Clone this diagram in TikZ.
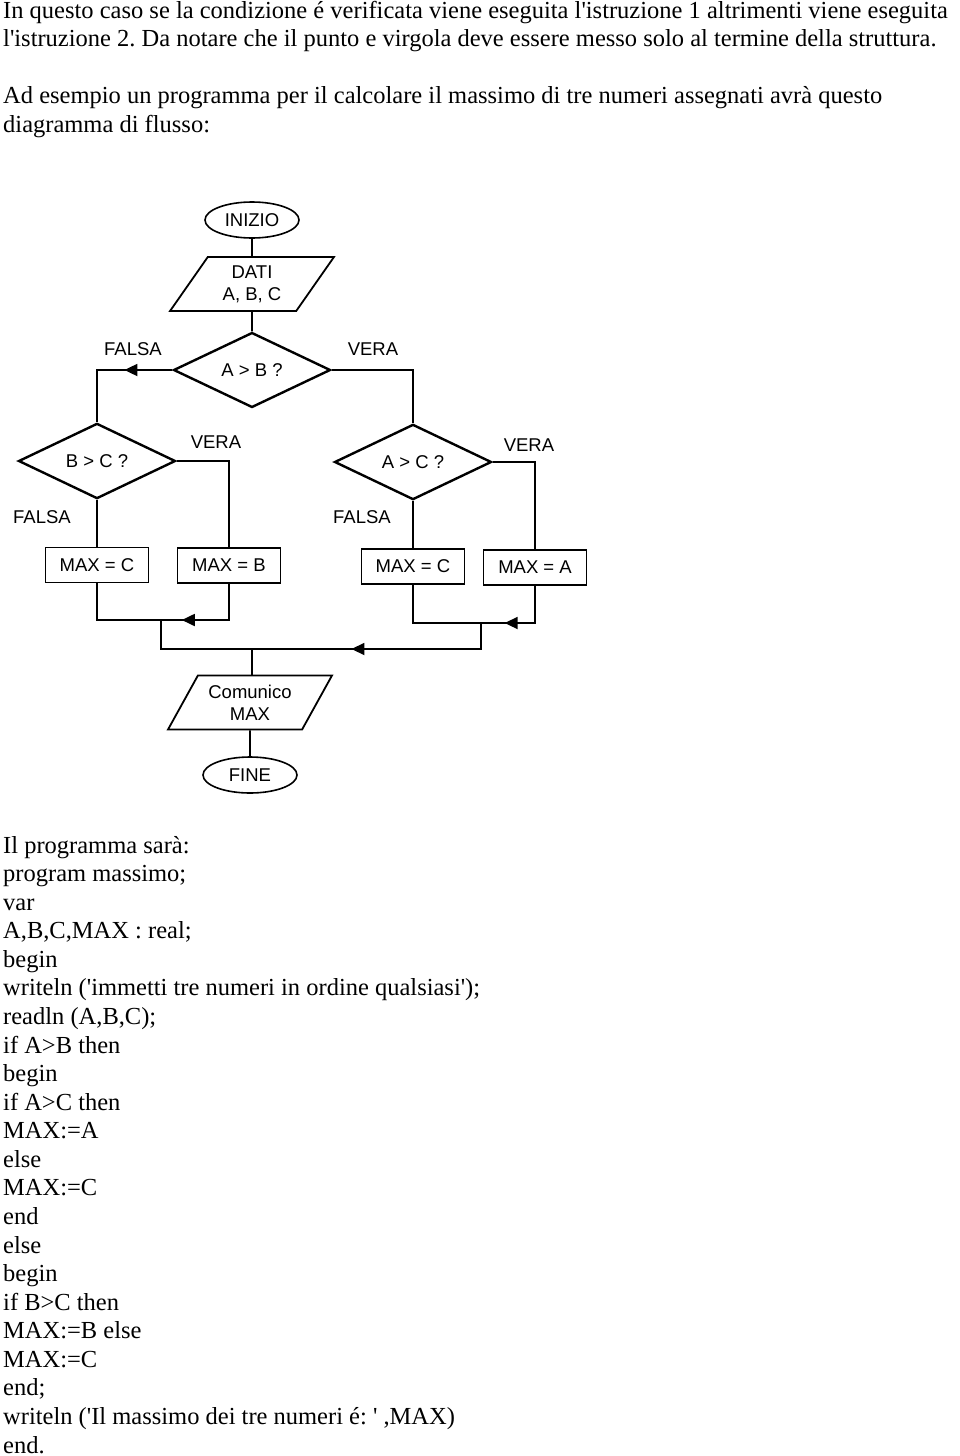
\documentclass[tikz,border=0pt]{standalone}
\usepackage{fontspec}
\setmainfont{Liberation Serif}[Ligatures=TeXOff]
\newfontfamily\chartfont{Liberation Sans}
\usepackage{tikz}
\usetikzlibrary{
	shapes.geometric,arrows.meta,decorations.markings
}
\frenchspacing
\tikzset{
	chart/.style={font=\chartfont\fontsize{18.5pt}{22pt}\selectfont},
	term/.style={chart,draw,line width=1.6pt,ellipse,minimum width=94pt,minimum height=36pt,inner sep=0pt},
	io/.style={chart,draw,line width=1.8pt,trapezium,trapezium left angle=56,trapezium right angle=124,
		trapezium stretches=true,minimum width=164pt,minimum height=54pt,inner sep=0pt,align=center},
	test/.style={chart,draw,line width=2.4pt,diamond,minimum width=157pt,minimum height=75pt,inner sep=0pt},
	block/.style={chart,draw,line width=1.9pt,rectangle,minimum width=103pt,minimum height=35pt,inner sep=0pt},
	lbl/.style={chart,inner sep=0pt},
	para/.style={anchor=base west,inner sep=0pt,font=\fontsize{24.5pt}{28pt}\selectfont},
	hv/.style={to path={-| (\tikztotarget)}},
	vh/.style={to path={|- (\tikztotarget)}},
	tipat/.style={postaction={decorate},decoration={markings,
		mark=at position #1 with {\arrow{Triangle[length=13pt,width=12pt]}}}}
}
\begin{document}
\begin{tikzpicture}[x=1pt,y=-1pt]
	\path[use as bounding box,fill=white] (0,0) rectangle (960,1456);
	% text above
	\node[para] (h1) at (3,18) {In questo caso se la condizione é verificata viene eseguita l'istruzione 1 altrimenti viene eseguita};
	\node[para] (h2) at (3,46.6) {l'istruzione 2. Da notare che il punto e virgola deve essere messo solo al termine della struttura.};
	\node[para] (h3) at (3,103.7) {Ad esempio un programma per il calcolare il massimo di tre numeri assegnati avrà questo};
	\node[para] (h4) at (3,132.3) {diagramma di flusso:};
	% nodes
	\node[term] (start) at (252,220) {INIZIO};
	\node[io] (dati) at (252,284) {DATI\\A, B, C};
	\node[test] (ab) at (252,370) {A > B ?};
	\node[test] (bc) at (97,461) {B > C ?};
	\node[test] (ac) at (413,462) {A > C ?};
	\node[block] (maxc) at (97,565) {MAX = C};
	\node[block] (maxb) at (229,565.5) {MAX = B};
	\node[block] (maxc') at (413,566.5) {MAX = C};
	\node[block] (maxa) at (535,567.5) {MAX = A};
	\node[io] (out) at (250,702.5) {Comunico\\MAX};
	\node[term] (fine) at (250,775) {FINE};
	% labels
	\node[lbl] (fab) at (133,349) {FALSA};
	\node[lbl] (vab) at (373,349) {VERA};
	\node[lbl] (vbc) at (216,442) {VERA};
	\node[lbl] (fbc) at (42,517) {FALSA};
	\node[lbl] (vac) at (529,445) {VERA};
	\node[lbl] (fac) at (362,517) {FALSA};
	% junctions
	\coordinate (jl) at (161,620);
	\coordinate (jr) at (481,623);
	\coordinate (jm) at (252,649);
	%
	\path[line width=1.8pt]
	% top
	(start) edge (dati)
	(dati) edge (ab)
	% branches
	(ab.west) edge[hv,tipat=0.376] (bc.north)
	(ab.east) edge[hv] (ac.north)
	(bc.east) edge[hv] (maxb.north)
	(bc.south) edge (maxc.north)
	(ac.east) edge[hv] (maxa.north)
	(ac.south) edge (maxc'.north)
	% merges
	(maxc.south) edge[vh] (jl)
	(maxb.south) edge[vh,tipat=0.8] (jl)
	(maxc'.south) edge[vh] (jr)
	(maxa.south) edge[vh,tipat=0.74] (jr)
	(jl) edge[vh] (jm)
	(jr) edge[vh,tipat=0.61] (jm)
	(jm) edge (jm |- out.north)
	(out) edge (fine);
	% text below
	\node[para] (c1) at (3,853) {Il programma sarà:};
	\node[para] (c2) at (3,881.6) {program massimo;};
	\node[para] (c3) at (3,910.1) {var};
	\node[para] (c4) at (3,938.7) {A,B,C,MAX : real;};
	\node[para] (c5) at (3,967.3) {begin};
	\node[para] (c6) at (3,995.9) {writeln ('immetti tre numeri in ordine qualsiasi');};
	\node[para] (c7) at (3,1024.4) {readln (A,B,C);};
	\node[para] (c8) at (3,1053) {if A>B then};
	\node[para] (c9) at (3,1081.6) {begin};
	\node[para] (c10) at (3,1110.1) {if A>C then};
	\node[para] (c11) at (3,1138.7) {MAX:=A};
	\node[para] (c12) at (3,1167.3) {else};
	\node[para] (c13) at (3,1195.9) {MAX:=C};
	\node[para] (c14) at (3,1224.4) {end};
	\node[para] (c15) at (3,1253) {else};
	\node[para] (c16) at (3,1281.6) {begin};
	\node[para] (c17) at (3,1310.1) {if B>C then};
	\node[para] (c18) at (3,1338.7) {MAX:=B else};
	\node[para] (c19) at (3,1367.3) {MAX:=C};
	\node[para] (c20) at (3,1395.9) {end;};
	\node[para] (c21) at (3,1424.4) {writeln ('Il massimo dei tre numeri é: ' ,MAX)};
	\node[para] (c22) at (3,1453) {end.};
\end{tikzpicture}
\end{document}
